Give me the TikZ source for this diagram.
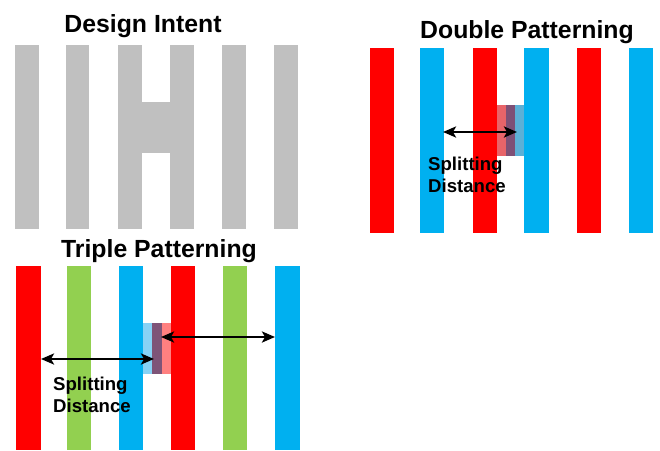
\documentclass[tikz,border=0pt]{standalone}
\usepackage{fontspec}
\setmainfont{Liberation Sans}
\usetikzlibrary{arrows.meta}
\definecolor{cred}{HTML}{FF0000}
\definecolor{cblue}{HTML}{00B0F0}
\definecolor{cgreen}{HTML}{92D050}
\definecolor{cgray}{HTML}{C0C0C0}
\definecolor{dlred}{RGB}{232,100,105}
\definecolor{dpurp}{RGB}{126,80,118}
\definecolor{dlblue}{RGB}{92,176,214}
\definecolor{tlblue}{RGB}{135,210,245}
\definecolor{tpurp}{RGB}{126,84,120}
\definecolor{tlred}{RGB}{255,128,128}
\tikzset{
  title/.style={font=\bfseries\fontsize{24.8}{27}\selectfont, inner sep=0pt, anchor=base},
  lbl/.style={font=\bfseries\fontsize{18.6}{22}\selectfont, inner sep=0pt, anchor=base west},
  dist/.style={{Stealth[length=13pt,width=11pt,inset=3pt]}-{Stealth[length=13pt,width=11pt,inset=3pt]}, line width=2.6pt, black}
}
\begin{document}
\begin{tikzpicture}[x=1pt,y=-1pt]
\useasboundingbox (0,0) rectangle (660,450);
% ---------- Design Intent ----------
\node[title] (tdi) at (143,32) {Design Intent};
\foreach \a/\b in {15/39,66/89,118/142,170/194,222/246,274/298}
  \fill[cgray] (\a,45) rectangle (\b,229);
\fill[cgray] (142,102) rectangle (170,153);
% ---------- Double Patterning ----------
\node[title] (tdp) at (527,38) {Double Patterning};
\foreach \a/\b/\c in {370/394/cred,420/444/cblue,473/497/cred,524/549/cblue,577/601/cred,629/653/cblue}
  \fill[\c] (\a,48) rectangle (\b,233);
\fill[dlred] (497,105) rectangle (506,156);
\fill[dpurp] (506,105) rectangle (515,156);
\fill[dlblue] (515,105) rectangle (524,156);
\coordinate (da) at (443,132);
\coordinate (db) at (517,132);
\draw[dist] (da) -- (db);
\node[lbl] (ld1) at (428,170) {Splitting};
\node[lbl] (ld2) at (428,192) {Distance};
% ---------- Triple Patterning ----------
\node[title] (ttp) at (159,257) {Triple Patterning};
\foreach \a/\b/\c in {16/41/cred,67/91/cgreen,119/143/cblue,171/195/cred,223/247/cgreen,275/300/cblue}
  \fill[\c] (\a,266) rectangle (\b,450);
\fill[tlblue] (143,323) rectangle (152,374);
\fill[tpurp] (152,323) rectangle (162,374);
\fill[tlred] (162,323) rectangle (171,374);
\coordinate (ta) at (41,359);
\coordinate (tb) at (154,359);
\coordinate (tc) at (161,337);
\coordinate (td) at (275,337);
\draw[dist] (ta) -- (tb);
\draw[dist] (tc) -- (td);
\node[lbl] (lt1) at (53,390) {Splitting};
\node[lbl] (lt2) at (53,412) {Distance};
\end{tikzpicture}
\end{document}
